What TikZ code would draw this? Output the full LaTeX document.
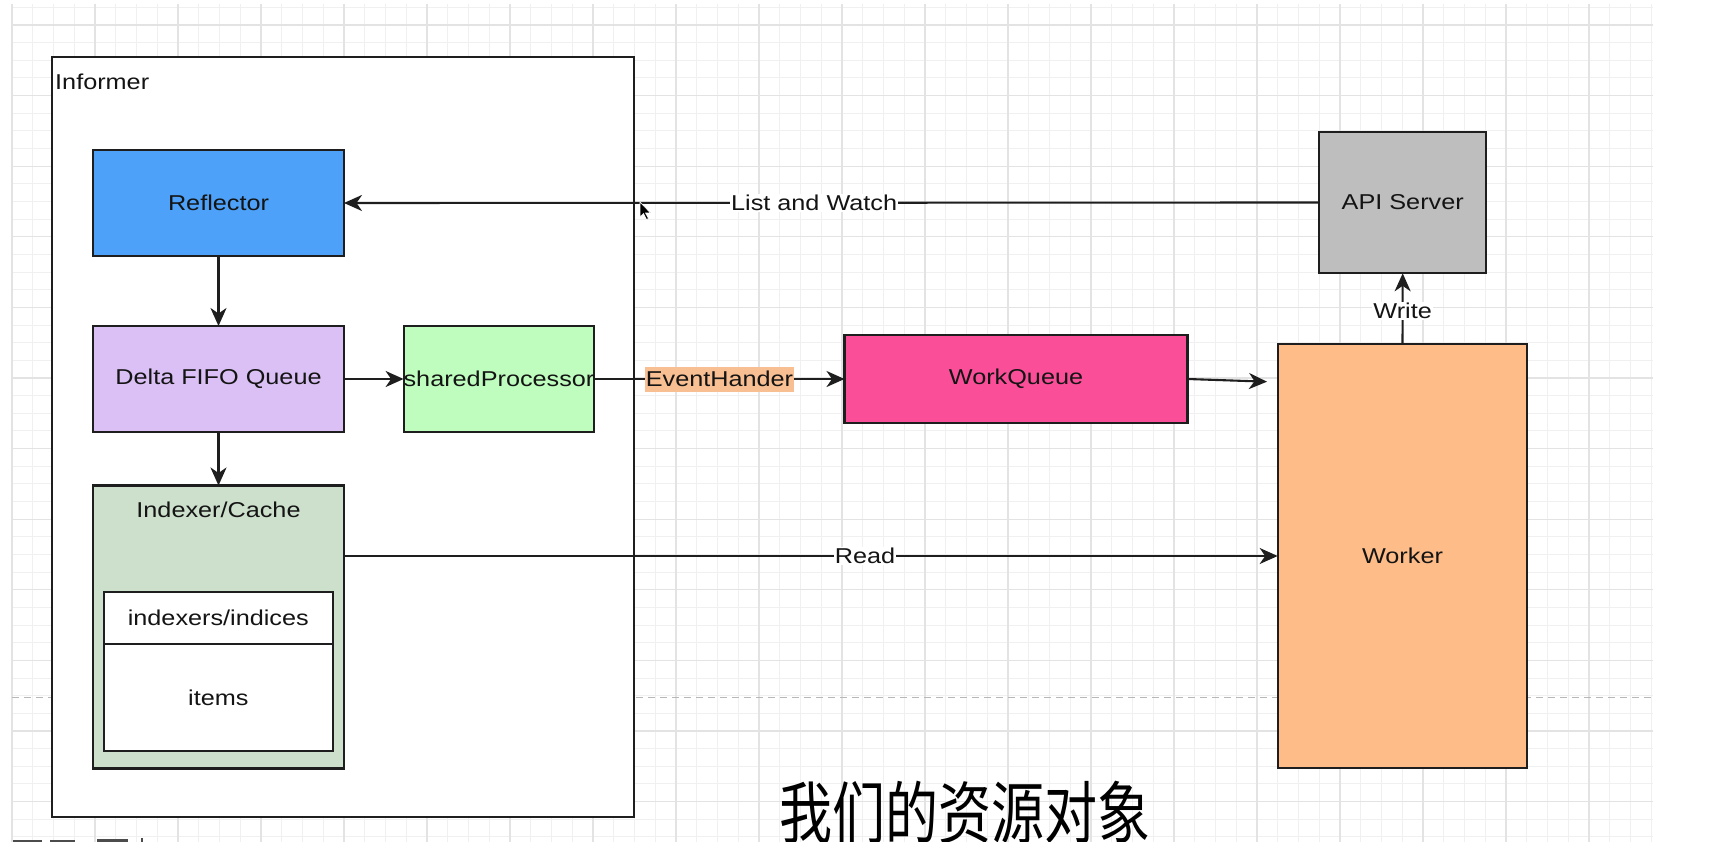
\documentclass[tikz,border=0pt]{standalone}
\usepackage{fontspec}
\setmainfont{Liberation Sans}[FakeStretch=1.174]
\newfontfamily\cjkfont{Noto Sans CJK SC}[FakeStretch=0.78]
\usetikzlibrary{arrows.meta}
\definecolor{gridmin}{HTML}{F0F0F0}
\definecolor{gridmaj}{HTML}{E3E3E3}
\definecolor{pbreak}{HTML}{B8B8B8}
\definecolor{linec}{HTML}{1E1E1E}
\definecolor{textc}{HTML}{141414}
\definecolor{reflc}{HTML}{4DA1F8}
\definecolor{deltac}{HTML}{DBC0F5}
\definecolor{sharedc}{HTML}{BFFDBF}
\definecolor{indexc}{HTML}{CDE0CC}
\definecolor{wqc}{HTML}{FA4F98}
\definecolor{workerc}{HTML}{FDBC88}
\definecolor{apic}{HTML}{BEBEBE}
\definecolor{evc}{HTML}{F8BF92}
\newcommand\dlbl{\fontsize{21.5}{25}\selectfont}
\begin{document}
\begin{tikzpicture}[x=1pt,y=-1pt,
  gridminor/.style={draw=gridmin, line width=1pt},
  gridmajor/.style={draw=gridmaj, line width=1.3pt},
  box/.style={draw=linec, line width=2.1pt, inner sep=0pt, outer sep=0pt, text=textc, font=\dlbl},
  arr/.style={draw=linec, line width=2.1pt, -{Stealth[length=18pt,width=16pt,inset=5.5pt]}},
  elab/.style={fill=white, inner xsep=1pt, inner ysep=1pt, font=\dlbl, text=textc},
  evlab/.style={fill=evc, inner xsep=1pt, inner ysep=0pt, minimum height=25pt, font=\dlbl, text=textc}]
\useasboundingbox (0,0) rectangle (1728,842);
\fill[white] (0,0) rectangle (1728,842);
% grid
\foreach \n in {0,...,79} {\draw[gridminor] ({12+20.75*\n},4) -- ({12+20.75*\n},842);}
\foreach \m in {0,...,47} {\draw[gridminor] (12,{7.35+17.65*\m}) -- (1653,{7.35+17.65*\m});}
\foreach \n in {0,4,...,76} {\draw[gridmajor] ({12+20.75*\n},4) -- ({12+20.75*\n},842);}
\foreach \m in {1,5,...,45} {\draw[gridmajor] (12,{7.35+17.65*\m}) -- (1653,{7.35+17.65*\m});}
\draw[pbreak, line width=1.3pt, dash pattern=on 7pt off 5pt] (12,697.5) -- (1653,697.5);
% informer container
\node[box, fill=white, minimum width=582.3pt, minimum height=760pt] (informer) at (342.85,437.3) {};
\node[anchor=west, inner sep=0pt, font=\dlbl, text=textc] (informerlbl) at (55,81.7) {Informer};
% boxes
\node[box, fill=reflc, minimum width=251pt, minimum height=106pt] (refl) at (218.5,203) {Reflector};
\node[box, fill=deltac, minimum width=251pt, minimum height=106pt] (delta) at (218.5,379) {Delta FIFO Queue};
\node[box, fill=sharedc, minimum width=188pt, minimum height=106pt] (shared) at (499,379) {sharedProcessor};
\node[box, fill=indexc, minimum width=251pt, minimum height=283pt] (indexer) at (218.5,627) {};
\node[inner sep=0pt, font=\dlbl, text=textc] (indexerlbl) at (218.5,509.5) {Indexer/Cache};
\node[box, fill=white, minimum width=229.4pt, minimum height=52.6pt] (indices) at (218.3,618) {indexers/indices};
\node[box, fill=white, minimum width=229.4pt, minimum height=106.7pt] (items) at (218.3,697.6) {items};
\node[box, fill=wqc, minimum width=343pt, minimum height=88pt] (wq) at (1016,379) {WorkQueue};
\node[box, fill=workerc, minimum width=249.7pt, minimum height=424.4pt] (worker) at (1402.5,556) {Worker};
\node[box, fill=apic, minimum width=166.6pt, minimum height=141.6pt] (api) at (1402.7,202.5) {API Server};
\coordinate (wqend) at (1267,381.7);
% connectors
\draw[arr] (api.west) -- node[elab, pos=0.518] {List and Watch} (refl.east);
\draw[arr] (refl.south) -- (delta.north);
\draw[arr] (delta.east) -- (shared.west);
\draw[arr] (delta.south) -- (indexer.north);
\draw[arr] (shared.east) -- node[evlab] {EventHander} (wq.west);
\draw[arr] (wq.east) -- (wqend);
\draw[arr] (indexer.north east |- worker.west) -- node[elab, pos=0.558] {Read} (worker.west);
\draw[arr] (worker.north) -- node[elab, pos=0.465] {Write} (api.south);
% mouse pointer
\fill[black, draw=white, line width=0.6pt] (640,202) -- ++(0,15) -- ++(3.5,-3.5) -- ++(3,6) -- ++(2,-1) -- ++(-3,-5.5) -- ++(5,0) -- cycle;
% bottom toolbar remnants
\fill[gray!60!black] (13,839.5) rectangle (42,842);
\fill[gray!60!black] (50,839.5) rectangle (75,842);
\fill[gray!60!black] (97,838.5) rectangle (128,842);
\fill[gray!60!black] (141,838) rectangle (143,842);
% subtitle
\node[anchor=base west, inner sep=0pt, font=\cjkfont\fontsize{68}{70}\selectfont, text=black] (subtitle) at (779,838) {我们的资源对象};
\end{tikzpicture}
\end{document}
